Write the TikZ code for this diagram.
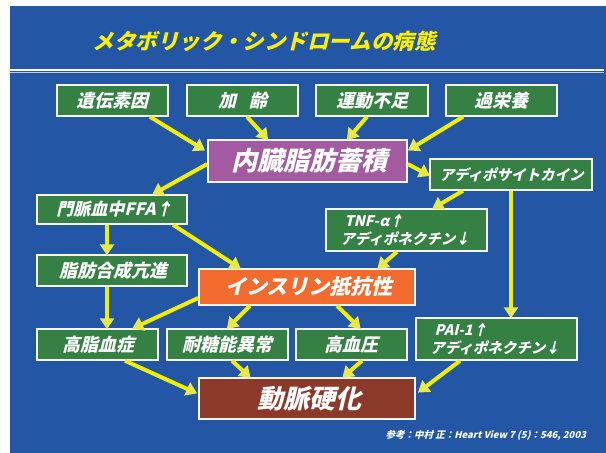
\documentclass[tikz,border=0pt]{standalone}
\usepackage{fontspec}
\usetikzlibrary{arrows.meta,calc}
\newfontfamily\jp{Noto Sans CJK JP}
\definecolor{bgblue}{HTML}{2356A5}
\definecolor{gbox}{HTML}{358043}
\definecolor{pbox}{HTML}{A35AA0}
\definecolor{obox}{HTML}{F26A2E}
\definecolor{bbox}{HTML}{8B3A2A}
\definecolor{arrline}{HTML}{F2EE00}
\definecolor{arrhead}{HTML}{E8E84A}
\definecolor{titley}{HTML}{FFF000}
\tikzset{
  box/.style={draw=white!92!gray, line width=1.5pt, inner sep=0pt},
  gbox/.style={box, fill=gbox},
  lbl/.style={text=white, inner sep=0pt, align=center, xslant=0.24, transform shape, font=\jp\bfseries\fontsize{18}{20}\selectfont},
  lsm/.style={lbl, align=left, font=\jp\bfseries\fontsize{14.5}{18}\selectfont},
  lbig/.style={lbl, font=\jp\bfseries\fontsize{26}{28}\selectfont},
  arr/.style={draw=arrline, line width=4pt, -{Triangle[length=11pt,width=14pt,color=arrhead]}, shorten >=-1pt}
}
\begin{document}
\begin{tikzpicture}[x=1pt,y=-1pt]
\useasboundingbox (0,0) rectangle (606,453);
\fill[white] (0,0) rectangle (606,453);
\fill[bgblue] (10,6) rectangle (606,453);
\draw[white, line width=2.2pt] (10,70) -- (604,70);
\draw[white!70!bgblue, line width=0.8pt] (10,72) -- (604,72);

\node[lbl, text=titley, font=\jp\bfseries\fontsize{21.5}{24}\selectfont] (title) at (266,41) {メタボリック・シンドロームの病態};

% boxes
\node[gbox, minimum width=111pt, minimum height=31pt] (g1) at (112.5,100.5) {};
\node[gbox, minimum width=111pt, minimum height=31pt] (g2) at (242.5,100.5) {};
\node[gbox, minimum width=112pt, minimum height=31pt] (g3) at (372,100.5) {};
\node[gbox, minimum width=111pt, minimum height=31pt] (g4) at (501.5,100.5) {};
\node[box, fill=pbox, minimum width=199pt, minimum height=42pt] (fat) at (307.5,161) {};
\node[gbox, minimum width=162pt, minimum height=31pt] (adipo) at (511,174.5) {};
\node[gbox, minimum width=150pt, minimum height=29pt] (ffa) at (112,209.5) {};
\node[gbox, minimum width=150pt, minimum height=31pt] (syn) at (112,270.5) {};
\node[gbox, minimum width=161pt, minimum height=42pt] (tnf) at (406.5,230) {};
\node[box, fill=obox, minimum width=216pt, minimum height=36pt] (ins) at (307,287) {};
\node[gbox, minimum width=121pt, minimum height=31pt] (hl) at (97.5,344.5) {};
\node[gbox, minimum width=121pt, minimum height=31pt] (gt) at (227.5,344.5) {};
\node[gbox, minimum width=111pt, minimum height=31pt] (hbp) at (351.5,344.5) {};
\node[gbox, minimum width=161pt, minimum height=42pt] (pai) at (496.5,339) {};
\node[box, fill=bbox, minimum width=216pt, minimum height=41pt] (ath) at (307,398.5) {};

% labels
\node[lbl] (g1t) at ([xshift=2pt]g1.center) {遺伝素因};
\node[lbl] (g2t) at ([xshift=2pt]g2.center) {加\hspace{0.7em}齢};
\node[lbl] (g3t) at ([xshift=2pt]g3.center) {運動不足};
\node[lbl] (g4t) at ([xshift=2pt]g4.center) {過栄養};
\node[lbig] (fatt) at ([xshift=4pt]fat.center) {内臓脂肪蓄積};
\node[lsm] (adipot) at ([xshift=2pt]adipo.center) {アディポサイトカイン};
\node[lbl, font=\jp\bfseries\fontsize{17}{20}\selectfont] (ffat) at ([xshift=4pt]ffa.center) {門脈血中FFA↑};
\node[lbl] (synt) at ([xshift=3pt]syn.center) {脂肪合成亢進};
\node[lsm] (tnft) at ([xshift=2pt]tnf.center) {TNF-α↑\\アディポネクチン↓};
\node[lbl, font=\jp\bfseries\fontsize{21}{24}\selectfont] (inst) at ([xshift=4pt]ins.center) {インスリン抵抗性};
\node[lbl] (hlt) at ([xshift=3pt]hl.center) {高脂血症};
\node[lbl] (gtt) at ([xshift=2pt]gt.center) {耐糖能異常};
\node[lbl] (hbpt) at ([xshift=2pt]hbp.center) {高血圧};
\node[lsm] (pait) at ([xshift=2pt]pai.center) {PAI-1↑\\アディポネクチン↓};
\node[lbig] (atht) at ([xshift=5pt]ath.center) {動脈硬化};

\node[lbl, anchor=east, font=\jp\bfseries\fontsize{9.5}{11}\selectfont] (ref) at (587,436) {参考：中村 正：Heart View 7 (5)：546, 2003};

% arrows
\draw[arr] ([xshift=37.5pt]g1.south) -- ([xshift=-3pt,yshift=11pt]fat.west);
\draw[arr] ([xshift=4.5pt]g2.south) -- ([xshift=-40pt]fat.north);
\draw[arr] ([xshift=-5pt]g3.south) -- ([xshift=40pt]fat.north);
\draw[arr] ([xshift=-38.5pt]g4.south) -- ([xshift=1pt,yshift=11pt]fat.east);
\draw[arr] ([yshift=-3pt]fat.east) -- ([yshift=-1pt]adipo.west);
\draw[arr] ([yshift=-3pt]fat.west) -- ([xshift=41pt]ffa.north);
\draw[arr] ([xshift=-5pt]ffa.south) -- ([xshift=-5pt]syn.north);
\draw[arr] ([xshift=61pt]ffa.south) -- ([xshift=-67pt]ins.north);
\draw[arr] ([xshift=-48pt]adipo.south) -- ([xshift=26.5pt]tnf.north);
\draw[arr] (adipo.south) -- (adipo.south |- pai.north);
\draw[arr] ([xshift=-9.5pt]tnf.south) -- ([xshift=71pt]ins.north);
\draw[arr] ([xshift=-5pt]syn.south) -- ([xshift=9.5pt]hl.north);
\draw[arr] ([yshift=-11pt]ins.west) -- ([xshift=35.5pt]hl.north);
\draw[arr] ([xshift=-57pt]ins.south) -- (gt.north);
\draw[arr] ([xshift=30pt]ins.south) -- ([xshift=8.5pt]hbp.north);
\draw[arr] ([xshift=27.5pt]hl.south) -- ([xshift=-2pt,yshift=5.5pt]ath.west);
\draw[arr] ([xshift=4.5pt]gt.south) -- ([xshift=-57pt]ath.north);
\draw[arr] ([xshift=10.5pt]hbp.south) -- ([xshift=36pt]ath.north);
\draw[arr] ([xshift=-36.5pt]pai.south) -- ([xshift=3pt,yshift=6.5pt]ath.east);
\end{tikzpicture}
\end{document}
